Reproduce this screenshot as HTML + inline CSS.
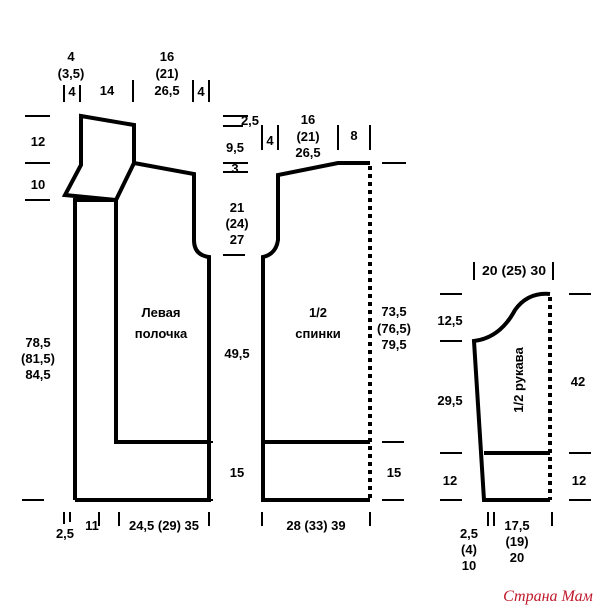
<!DOCTYPE html>
<html><head><style>body{margin:0;background:#fff}svg{display:block}text{font-family:"Liberation Sans",sans-serif;font-weight:bold;font-size:13px;fill:#000;text-anchor:middle}</style></head><body>
<svg width="610" height="610" viewBox="0 0 610 610" xmlns="http://www.w3.org/2000/svg">
<g fill="none" stroke="#000" stroke-width="4" stroke-linejoin="miter">
<path d="M81,116 L134,125 L134,163 L116,200 L65,195 L81,165 Z"/>
<path d="M75,500 L75,200 L116,200 L116,442 L209,442"/>
<path d="M134,163 L194,174 L194,240 Q194,255 209,257 L209,500 L75,500"/>
<path d="M370,163 L338,163 L278,175 L278,240 Q276,254 263,257 L263,500 L370,500 M263,442 L370,442"/>
<path d="M550,294 Q528,292 515,310 Q500,338 474,341 L484,500 L550,500 M484,453 L550,453"/>
</g>
<g stroke="#000" stroke-width="4" stroke-dasharray="4,4"><path d="M370,166 L370,500 M550,297 L550,500"/></g>
<g stroke="#000" stroke-width="2">
<path d="M25,116h25M25,163h25M25,200h25M22,500h22"/>
<path d="M223,116h25M223,126h20M223,163h25M223,172h25M223,255h22M191,442h22M191,500h22"/>
<path d="M382,163h24M382,442h22M382,500h22"/>
<path d="M440,294h22M440,341h22M440,453h22M440,500h22M569,294h22M569,453h22M569,500h22"/>
<path d="M64,85v17M80,85v17M133,80v22M193,80v22M209,80v22"/>
<path d="M262,125v25M278,125v25M338,125v25M370,125v25"/>
<path d="M64,512v12M70,512v10M99,512v14M119,512v14M209,512v14M262,512v14M370,512v14"/>
<path d="M474,262v18M553,262v18M488,512v14M494,512v14M552,512v14"/>
</g>
<text x="71" y="61">4</text><text x="71" y="78">(3,5)</text><text x="72" y="96">4</text>
<text x="107" y="95">14</text>
<text x="167" y="61">16</text><text x="167" y="78">(21)</text><text x="167" y="95">26,5</text><text x="201" y="96">4</text>
<text x="38" y="146">12</text><text x="38" y="189">10</text>
<text x="250" y="125">2,5</text><text x="270" y="145">4</text>
<text x="235" y="152">9,5</text><text x="235" y="173" font-size="11">3</text>
<text x="237" y="212">21</text><text x="237" y="228">(24)</text><text x="237" y="244">27</text>
<text x="308" y="124">16</text><text x="308" y="141">(21)</text><text x="308" y="157">26,5</text>
<text x="354" y="140">8</text>
<text x="161" y="317" font-size="16">Левая</text><text x="161" y="338" font-size="16">полочка</text>
<text x="318" y="317" font-size="16">1/2</text><text x="318" y="338" font-size="16">спинки</text>
<text x="38" y="347">78,5</text><text x="38" y="363">(81,5)</text><text x="38" y="379">84,5</text>
<text x="237" y="358">49,5</text>
<text x="394" y="316">73,5</text><text x="394" y="333">(76,5)</text><text x="394" y="349">79,5</text>
<text x="237" y="477">15</text><text x="394" y="477">15</text>
<text x="514" y="275" textLength="64" lengthAdjust="spacingAndGlyphs">20 (25) 30</text>
<text x="450" y="325">12,5</text><text x="450" y="405">29,5</text><text x="578" y="386">42</text>
<text x="450" y="485">12</text><text x="579" y="485">12</text>
<text transform="translate(523,380) rotate(-90)" font-size="15">1/2 рукава</text>
<text x="65" y="538">2,5</text><text x="92" y="530">11</text><text x="164" y="530" textLength="70" lengthAdjust="spacingAndGlyphs">24,5 (29) 35</text>
<text x="316" y="530">28 (33) 39</text>
<text x="469" y="538">2,5</text><text x="469" y="554">(4)</text><text x="469" y="570">10</text>
<text x="517" y="530">17,5</text><text x="517" y="546">(19)</text><text x="517" y="562">20</text>
<text x="548" y="601" style="font-family:'Liberation Serif',serif;font-style:italic;font-weight:normal;font-size:16px;fill:#c0182a">Страна Мам</text>
</svg>
</body></html>
